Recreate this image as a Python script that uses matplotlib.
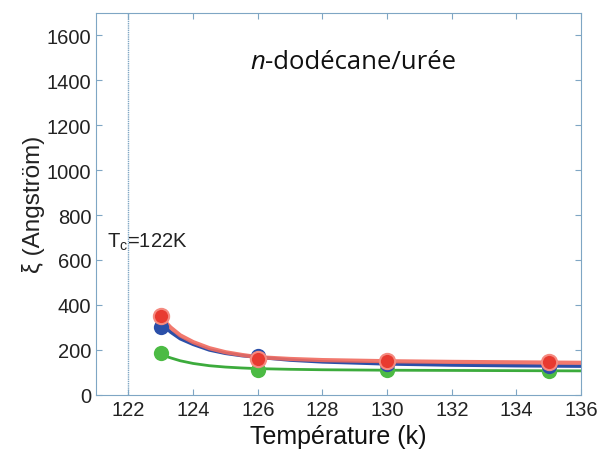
import numpy as np
import matplotlib.pyplot as plt

plt.rcParams['font.family'] = ['Liberation Sans', 'DejaVu Sans']

temp_pts = [123, 126, 130, 135]
xi_red = [352, 159, 150, 145]
xi_blue = [304, 172, 137, 128]
xi_green = [185, 112, 110, 106]

# fitted curves
temp_fit = [123, 123.3, 123.6, 124, 124.5, 125, 125.5, 126, 127, 128, 130, 132, 134, 136]
fit_red = [345, 300, 265, 235, 208, 190, 178, 168, 160, 155, 150, 147, 145, 143]
fit_blue = [320, 280, 250, 225, 200, 185, 175, 168, 155, 147, 138, 133, 130, 128]
fit_green = [180, 165, 152, 140, 130, 124, 120, 117, 114, 112, 110, 109, 108, 107]

tc = 122

fig, ax = plt.subplots(figsize=(6.01, 4.52), dpi=100)
fig.subplots_adjust(left=0.16, right=0.967, top=0.97, bottom=0.124)

ax.axvline(tc, color='#7fa6c4', lw=1, ls=(0, (1, 0.6)))

ax.plot(temp_fit, fit_green, color='#3cab3c', lw=2)
ax.plot(temp_fit, fit_blue, color='#2b4fa8', lw=2.5)
ax.plot(temp_fit, fit_red, color='#f06a5e', lw=3, alpha=0.9)
ax.plot(temp_pts, xi_green, 'o', color='#4cbb44', ms=11, mec='none')
ax.plot(temp_pts, xi_blue, 'o', color='#2b4fa8', ms=11, mec='none')
ax.plot(temp_pts, xi_red, 'o', color='#e83a30', ms=11, mec='#f58a80', mew=1.5)

title_font = ['Open Sans', 'DejaVu Sans']
t = ax.text(0.318, 0.855, 'n', transform=ax.transAxes, fontsize=18.5,
            style='italic', color='#111111', family=title_font)
ax.annotate('-dodécane/urée', xy=(1, 0), xycoords=t, va='bottom', ha='left',
            fontsize=18.5, color='#111111', family=title_font)
ax.text(121.35, 660, r'T$_\mathregular{c}$=122K', fontsize=14.5, color='#222222')

ax.set_xlim(121, 136)
ax.set_ylim(0, 1700)
ax.set_xticks(np.arange(122, 137, 2))
ax.set_yticks(np.arange(0, 1601, 200))
ax.tick_params(direction='in', top=True, right=True, labelsize=14.5,
               colors='#7fa6c4', labelcolor='#222222', length=4)
for s in ax.spines.values():
    s.set_color('#7fa6c4')

ax.set_xlabel('Température (k)', fontsize=18, color='#111111', labelpad=4)
ax.set_ylabel('ξ (Angström)', fontsize=17.5, color='#222222', labelpad=1)

plt.savefig('out.png', dpi=100)
